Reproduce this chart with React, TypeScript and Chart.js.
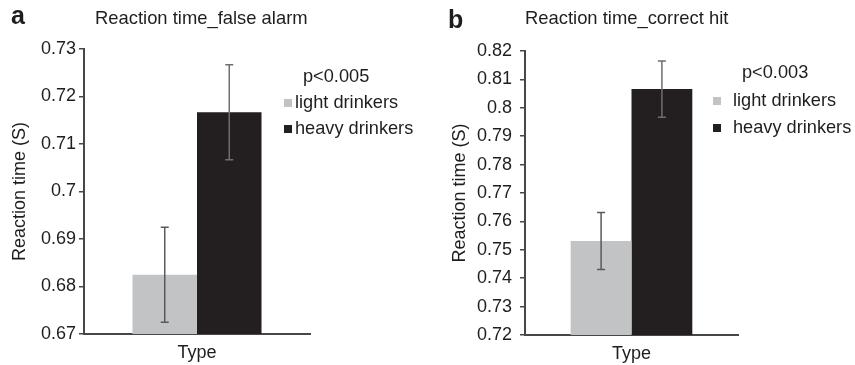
import React, { useEffect, useRef } from "react";
import { Chart, registerables } from "chart.js";

Chart.register(...registerables);

// ---- data ----
const categories = ["Type"];
const seriesNames = ["light drinkers", "heavy drinkers"];
const seriesColors = ["#c2c3c5", "#231f20"];

const panelATitle = "Reaction time_false alarm";
const panelAP = "p<0.005";
const panelAMeans = [0.6825, 0.7167];
const panelAErrors = [0.01, 0.01];
const panelATickValues = [0.67, 0.68, 0.69, 0.7, 0.71, 0.72, 0.73];
const panelATickLabels = ["0.67", "0.68", "0.69", "0.7", "0.71", "0.72", "0.73"];

const panelBTitle = "Reaction time_correct hit";
const panelBP = "p<0.003";
const panelBMeans = [0.7531, 0.8066];
const panelBErrors = [0.01, 0.0099];
const panelBTickValues = [0.72, 0.73, 0.74, 0.75, 0.76, 0.77, 0.78, 0.79, 0.8, 0.81, 0.82];
const panelBTickLabels = ["0.72", "0.73", "0.74", "0.75", "0.76", "0.77", "0.78", "0.79", "0.8", "0.81", "0.82"];

const yAxisTitle = "Reaction time (S)";

const FONT = "'Liberation Sans', Arial, Helvetica, sans-serif";
const TEXT = "#1e1e1e";
const AXIS = "#474747";

type PanelCfg = {
  letter: string;
  title: string;
  pText: string;
  means: number[];
  errors: number[];
  tickValues: number[];
  tickLabels: string[];
  left: number;
  width: number;
  axisWidth: number;
  yTitlePad: number;
  tickPad: number;
  padTop: number;
  padRight: number;
  xHeight: number;
  letterX: number;
  letterY: number;
  titleX: number;
  pX: number;
  pY: number;
  sqX: number;
  textX: number;
  itemY: number[];
};

const panels: PanelCfg[] = [
  {
    letter: "a",
    title: panelATitle,
    pText: panelAP,
    means: panelAMeans,
    errors: panelAErrors,
    tickValues: panelATickValues,
    tickLabels: panelATickLabels,
    left: 0,
    width: 430,
    axisWidth: 84,
    yTitlePad: 9,
    tickPad: 3,
    padTop: 49,
    padRight: 120,
    xHeight: 31,
    letterX: 11,
    letterY: 24,
    titleX: 95,
    pX: 303,
    pY: 77,
    sqX: 284,
    textX: 295,
    itemY: [103, 129],
  },
  {
    letter: "b",
    title: panelBTitle,
    pText: panelBP,
    means: panelBMeans,
    errors: panelBErrors,
    tickValues: panelBTickValues,
    tickLabels: panelBTickLabels,
    left: 430,
    width: 425,
    axisWidth: 95,
    yTitlePad: 19,
    tickPad: 8,
    padTop: 51,
    padRight: 117,
    xHeight: 30,
    letterX: 18,
    letterY: 28,
    titleX: 95,
    pX: 312,
    pY: 73,
    sqX: 283,
    textX: 303,
    itemY: [101, 128],
  },
];

const errorBarPlugin = {
  id: "errorBars",
  afterDatasetsDraw(chart: any) {
    const ctx = chart.ctx;
    const y = chart.scales.y;
    chart.data.datasets.forEach((ds: any, i: number) => {
      const meta = chart.getDatasetMeta(i);
      meta.data.forEach((bar: any, j: number) => {
        const v = ds.data[j];
        const e = ds.errors[j];
        const top = y.getPixelForValue(v + e);
        const bot = y.getPixelForValue(v - e);
        ctx.save();
        ctx.strokeStyle = i === 0 ? "#5a5a5a" : "#6e6e6e";
        ctx.lineWidth = 1.5;
        ctx.beginPath();
        ctx.moveTo(bar.x, top);
        ctx.lineTo(bar.x, bot);
        ctx.moveTo(bar.x - 4, top);
        ctx.lineTo(bar.x + 4, top);
        ctx.moveTo(bar.x - 4, bot);
        ctx.lineTo(bar.x + 4, bot);
        ctx.stroke();
        ctx.restore();
      });
    });
  },
};

const annotationPlugin = {
  id: "panelText",
  afterDraw(chart: any, _args: any, opts: any) {
    const ctx = chart.ctx;
    ctx.save();
    ctx.fillStyle = TEXT;
    ctx.textAlign = "left";
    ctx.textBaseline = "alphabetic";
    ctx.font = `bold 25px ${FONT}`;
    ctx.fillText(opts.letter, opts.letterX, opts.letterY);
    ctx.font = `18.4px ${FONT}`;
    ctx.fillText(opts.title, opts.titleX, 24);
    ctx.font = `18.2px ${FONT}`;
    ctx.textBaseline = "middle";
    ctx.fillText(opts.pText, opts.pX, opts.pY);
    chart.data.datasets.forEach((ds: any, i: number) => {
      const cy = opts.itemY[i];
      ctx.fillStyle = ds.backgroundColor;
      ctx.fillRect(opts.sqX, cy - 4, 8, 8);
      ctx.fillStyle = TEXT;
      ctx.fillText(ds.label, opts.textX, cy);
    });
    ctx.restore();
  },
};

function Panel({ cfg }: { cfg: PanelCfg }) {
  const ref = useRef<HTMLCanvasElement | null>(null);
  useEffect(() => {
    if (!ref.current) return;
    const chart = new Chart(ref.current, {
      type: "bar",
      data: {
        labels: categories,
        datasets: seriesNames.map((name, i) => ({
          label: name,
          data: [cfg.means[i]],
          errors: [cfg.errors[i]],
          backgroundColor: seriesColors[i],
          borderWidth: 0,
          categoryPercentage: 0.571,
          barPercentage: 1.0,
        })) as any,
      },
      options: {
        animation: false,
        responsive: false,
        devicePixelRatio: 1,
        layout: { padding: { top: cfg.padTop, right: cfg.padRight, bottom: 0, left: 0 } },
        plugins: {
          legend: { display: false },
          title: { display: false },
          tooltip: { enabled: false },
          panelText: cfg as any,
        } as any,
        scales: {
          x: {
            type: "category",
            grid: { display: false, drawTicks: false },
            border: { display: true, color: AXIS, width: 2 },
            ticks: { color: TEXT, font: { family: FONT, size: 18 }, padding: 8 },
            afterFit: (s: any) => {
              s.height = cfg.xHeight;
            },
          },
          y: {
            min: cfg.tickValues[0],
            max: cfg.tickValues[cfg.tickValues.length - 1],
            afterBuildTicks: (s: any) => {
              s.ticks = cfg.tickValues.map((v) => ({ value: v }));
            },
            grid: {
              display: true,
              drawOnChartArea: false,
              drawTicks: true,
              tickLength: 5,
              color: AXIS,
              lineWidth: 1.5,
            },
            border: { display: true, color: AXIS, width: 2 },
            ticks: {
              color: TEXT,
              font: { family: FONT, size: 18 },
              padding: cfg.tickPad,
              callback: (_v: any, idx: number) => cfg.tickLabels[idx],
            },
            title: {
              display: true,
              text: yAxisTitle,
              color: TEXT,
              font: { family: FONT, size: 18 },
              padding: { top: cfg.yTitlePad, bottom: 0 },
            },
            afterFit: (s: any) => {
              s.width = cfg.axisWidth;
            },
          },
        },
      } as any,
      plugins: [errorBarPlugin, annotationPlugin],
    });
    return () => chart.destroy();
  }, [cfg]);
  return (
    <canvas
      ref={ref}
      width={cfg.width}
      height={365}
      style={{ position: "absolute", left: cfg.left, top: 0, width: cfg.width, height: 365 }}
    />
  );
}

export default function App() {
  return (
    <div style={{ position: "absolute", left: 0, top: 0, width: 855, height: 365, background: "#fff" }}>
      {panels.map((p) => (
        <Panel key={p.letter} cfg={p} />
      ))}
    </div>
  );
}
